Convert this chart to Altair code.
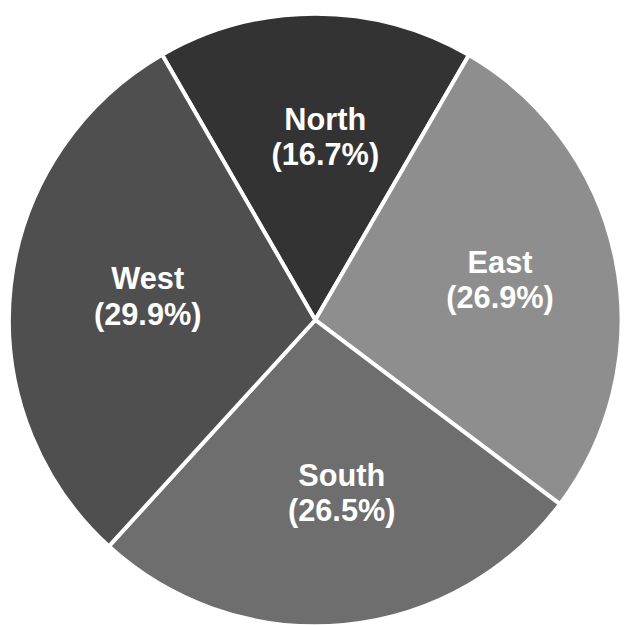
import math
import altair as alt
import pandas as pd

regions = ["North", "East", "South", "West"]
shares = [16.7, 26.9, 26.5, 29.9]
colors = ["#333333", "#8e8e8e", "#6e6e6e", "#4f4f4f"]

df = pd.DataFrame({
    "region": regions,
    "share": shares,
    "order": list(range(len(regions))),
})
df["label"] = [f"{r}\n({s:.1f}%)" for r, s in zip(regions, shares)]

start = -math.pi / 6
theta_scale = alt.Scale(range=[start, start + 2 * math.pi])

base = alt.Chart(df).encode(
    theta=alt.Theta("share:Q", stack=True, scale=theta_scale),
    order=alt.Order("order:Q"),
)

arcs = base.mark_arc(outerRadius=309, stroke="white", strokeWidth=4).encode(
    color=alt.Color("region:N", scale=alt.Scale(domain=regions, range=colors), legend=None),
)

labels = base.mark_text(
    radius=180,
    lineBreak="\n",
    font="Liberation Sans",
    fontWeight="bold",
    fontSize=31,
    lineHeight=36,
    color="white",
    align="center",
    baseline="middle",
    dx=10,
    dy=-21,
).encode(text="label:N")

chart = (arcs + labels).properties(
    width=625,
    height=625,
    padding={"left": 5.5, "top": 7.5, "right": 0, "bottom": 0},
    autosize=alt.AutoSizeParams(type="none"),
).configure_view(stroke=None).configure(background="white")

chart.save("out.html", embed_options={"renderer": "svg", "actions": False})
